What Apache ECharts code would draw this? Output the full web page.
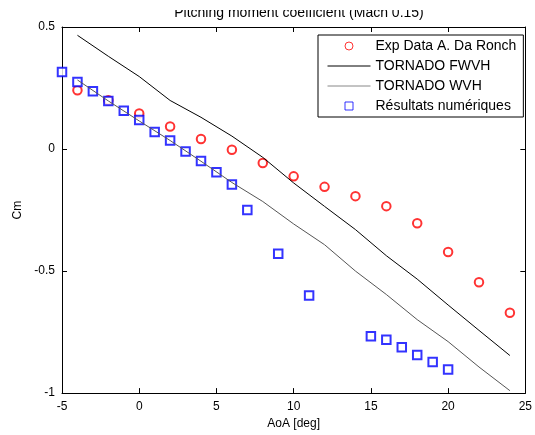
<!DOCTYPE html>
<html>
<head>
<meta charset="utf-8">
<script src="https://cdn.jsdelivr.net/npm/echarts@6/dist/echarts.min.js"></script>
<style>
  html, body { margin: 0; padding: 0; background: #fff; }
  #chart { width: 535px; height: 435px; }
</style>
</head>
<body>
<div id="chart"></div>
<script>
// Angle of attack (deg) for the wind-tunnel points and the TORNADO sweeps
const aoaExp = [-4, -2, 0, 2, 4, 6, 8, 10, 12, 14, 16, 18, 20, 22, 24];
const cmExp = [0.241, 0.200, 0.146, 0.092, 0.041, -0.003, -0.057, -0.112, -0.155, -0.193, -0.234, -0.304, -0.422, -0.546, -0.671];

const aoaTornado = [-4, -2, 0, 2, 4, 6, 8, 10, 12, 14, 16, 18, 20, 22, 24];
const cmFwvh = [0.466, 0.380, 0.297, 0.199, 0.130, 0.053, -0.034, -0.139, -0.235, -0.330, -0.437, -0.533, -0.639, -0.743, -0.846];
const cmWvh = [0.283, 0.197, 0.115, 0.035, -0.050, -0.137, -0.215, -0.307, -0.392, -0.500, -0.596, -0.699, -0.789, -0.893, -0.990];

// Numerical results
const aoaNum = [-5, -4, -3, -2, -1, 0, 1, 2, 3, 4, 5, 6, 7, 9, 11, 15, 16, 17, 18, 19, 20];
const cmNum = [0.316, 0.275, 0.237, 0.197, 0.157, 0.119, 0.070, 0.035, -0.010, -0.049, -0.095, -0.145, -0.250, -0.429, -0.600, -0.767, -0.781, -0.812, -0.844, -0.873, -0.903];

const seriesNames = ['Exp Data A. Da Ronch', 'TORNADO FWVH', 'TORNADO WVH', 'Résultats numériques'];
const titleText = 'Pitching moment coefficient (Mach 0.15)';
const xName = 'AoA [deg]';
const yName = 'Cm';

const FONT = '"Liberation Sans", Arial, Helvetica, sans-serif';
const pairs = (xs, ys) => xs.map((x, i) => [x, ys[i]]);

const tickStyle = { show: true, inside: true, length: 5, lineStyle: { color: '#000', width: 1 } };
const lineStyle = { show: true, onZero: false, lineStyle: { color: '#000', width: 1 } };

// legend entries: hollow markers for the point sets, plain strokes for the curves
const hiddenMarker = { opacity: 0, color: 'transparent', borderWidth: 0 };
const legendData = [
  { name: seriesNames[0], icon: 'circle', itemStyle: { color: '#fff', borderColor: '#ff0000', borderWidth: 1 } },
  { name: seriesNames[1], itemStyle: hiddenMarker, lineStyle: { color: '#000', width: 1 } },
  { name: seriesNames[2], itemStyle: hiddenMarker, lineStyle: { color: '#888', width: 1 } },
  { name: seriesNames[3], icon: 'path://M0,0 H8 V8 H0 Z', itemStyle: { color: '#fff', borderColor: '#0000ff', borderWidth: 1 } }
];

const chart = echarts.init(document.getElementById('chart'), null, { renderer: 'canvas' });
chart.setOption({
  animation: false,
  backgroundColor: '#fff',
  textStyle: { fontFamily: FONT },
  title: {
    text: titleText,
    left: 294,
    textAlign: 'center',
    top: 1,
    textStyle: { fontSize: 14, fontWeight: 'normal', color: '#000', fontFamily: FONT }
  },
  graphic: [
    // white band across the top edge of the figure
    { type: 'rect', left: 0, top: 0, z: 100, shape: { width: 535, height: 10 }, style: { fill: '#fff' } }
  ],
  grid: { left: 62, right: 7, top: 27, bottom: 40, containLabel: false },
  legend: {
    orient: 'vertical',
    left: 318,
    top: 35,
    padding: [4, 7, 4, 9],
    itemWidth: 43,
    itemHeight: 8,
    itemGap: 6,
    symbolKeepAspect: true,
    backgroundColor: '#fff',
    borderColor: '#000',
    borderWidth: 1,
    borderRadius: 0,
    textStyle: { fontSize: 14, color: '#000', fontFamily: FONT, lineHeight: 14 },
    data: legendData
  },
  xAxis: [
    {
      type: 'value', min: -5, max: 25, interval: 5, position: 'bottom',
      name: xName, nameLocation: 'middle', nameGap: 18,
      nameTextStyle: { fontSize: 12, color: '#000', fontFamily: FONT },
      axisLine: lineStyle, axisTick: tickStyle,
      axisLabel: { fontSize: 12, color: '#000', margin: 8, fontFamily: FONT },
      splitLine: { show: false }
    },
    {
      type: 'value', min: -5, max: 25, interval: 5, position: 'top',
      axisLine: lineStyle, axisTick: tickStyle,
      axisLabel: { show: false }, splitLine: { show: false }
    }
  ],
  yAxis: [
    {
      type: 'value', min: -1, max: 0.5, interval: 0.5, position: 'left',
      name: yName, nameLocation: 'middle', nameGap: 38, nameRotate: 90,
      nameTextStyle: { fontSize: 12, color: '#000', fontFamily: FONT },
      axisLine: lineStyle, axisTick: tickStyle,
      axisLabel: { fontSize: 12, color: '#000', margin: 7, fontFamily: FONT },
      splitLine: { show: false }
    },
    {
      type: 'value', min: -1, max: 0.5, interval: 0.5, position: 'right',
      axisLine: lineStyle, axisTick: tickStyle,
      axisLabel: { show: false }, splitLine: { show: false }
    }
  ],
  series: [
    {
      name: seriesNames[0], type: 'scatter', data: pairs(aoaExp, cmExp),
      symbol: 'emptyCircle', symbolSize: 8.5, clip: false,
      itemStyle: { color: '#ff0000', borderColor: '#ff0000', borderWidth: 1 }
    },
    {
      name: seriesNames[1], type: 'line', data: pairs(aoaTornado, cmFwvh),
      symbol: 'none', showSymbol: false,
      lineStyle: { color: '#000', width: 1 }, itemStyle: { color: '#000' }
    },
    {
      name: seriesNames[2], type: 'line', data: pairs(aoaTornado, cmWvh),
      symbol: 'none', showSymbol: false,
      lineStyle: { color: '#555', width: 1 }, itemStyle: { color: '#555' }
    },
    {
      name: seriesNames[3], type: 'scatter', data: pairs(aoaNum, cmNum),
      symbol: 'emptyRect', symbolSize: 8.5, clip: false,
      itemStyle: { color: '#0000ff', borderColor: '#0000ff', borderWidth: 1 }
    }
  ]
});
</script>
</body>
</html>
